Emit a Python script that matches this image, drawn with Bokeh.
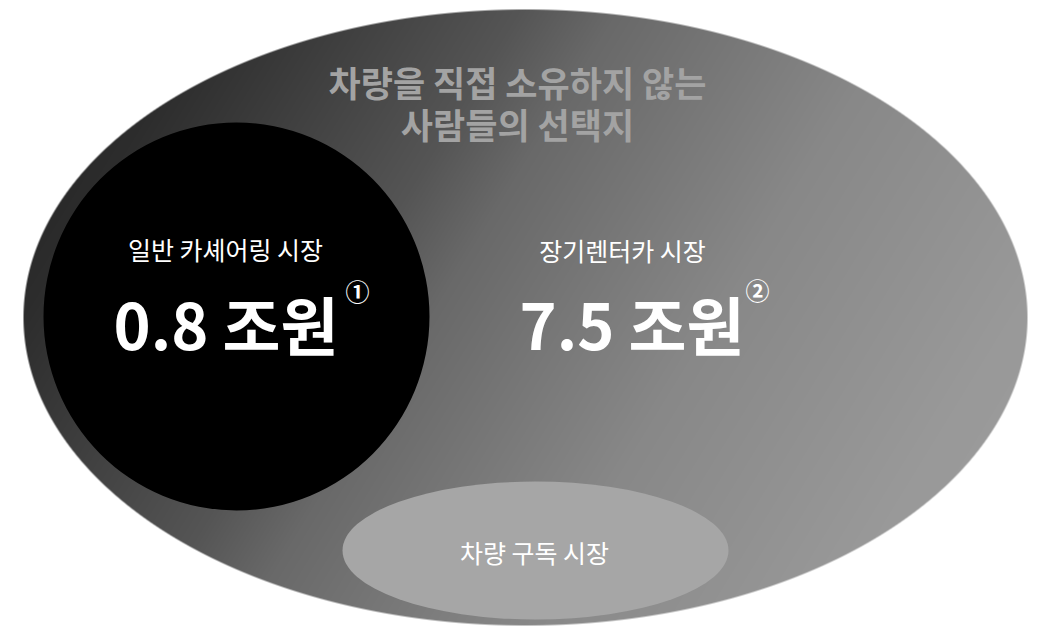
import numpy as np
from bokeh.plotting import figure
from bokeh.models import Range1d
from bokeh.core.properties import value
from bokeh.embed import file_html
from bokeh.resources import INLINE

# ---- data (texts / values) ----
title_lines = ["차량을 직접 소유하지 않는", "사람들의 선택지"]
market_names = ["일반 카셰어링 시장", "장기렌터카 시장", "차량 구독 시장"]
market_values = ["0.8 조원", "7.5 조원"]
market_notes = ["①", "②"]

# ---- layout (reference pixel coordinates, y downward) ----
W, H = 1040, 626
def fy(Y):
    return H - Y  # convert screen Y to data y

FONT = value("Noto Sans CJK KR")

big = dict(cx=525, cy=317, rx=502, ry=308)
black = dict(cx=236, cy=316, rx=193, ry=194)
sub = dict(cx=535, cy=550, rx=193, ry=69)

p = figure(width=W, height=H, x_range=Range1d(0, W), y_range=Range1d(0, H),
           output_backend="svg", toolbar_location=None, min_border=0,
           x_axis_type=None, y_axis_type=None)
p.grid.visible = False
p.outline_line_color = None
p.background_fill_color = "white"
p.border_fill_color = "white"

# ---- gradient ellipse as an RGBA image ----
j = np.arange(W)
i = np.arange(H)
XX = j[None, :] + 0.5
YY = H - (i[:, None] + 0.5)
dx = XX - big["cx"]
dy = YY - big["cy"]
f = (dx / big["rx"]) ** 2 + (dy / big["ry"]) ** 2 - 1.0
g = 2 * np.sqrt((dx / big["rx"] ** 2) ** 2 + (dy / big["ry"] ** 2) ** 2) + 1e-9
dist = f / g
alpha = np.clip(0.5 - dist, 0, 1)

x0, y0 = big["cx"] - big["rx"], big["cy"] - big["ry"]
ddx, ddy = 2 * big["rx"], 2 * big["ry"]
t = ((XX - x0) * ddx + (YY - y0) * ddy) / (ddx ** 2 + ddy ** 2)
stops_t = [0.0, 0.137, 0.36, 0.43, 0.637, 0.85, 1.0]
stops_v = [30, 45, 85, 105, 136, 153, 158]
gray = np.interp(t, stops_t, stops_v)

rgba = np.zeros((H, W, 4), dtype=np.uint8)
rgba[..., 0] = gray.astype(np.uint8)
rgba[..., 1] = gray.astype(np.uint8)
rgba[..., 2] = gray.astype(np.uint8)
rgba[..., 3] = (alpha * 255).astype(np.uint8)
img = rgba.view(dtype=np.uint32).reshape(H, W)
p.image_rgba(image=[img], x=0, y=0, dw=W, dh=H)

# ---- black circle and sub ellipse ----
p.ellipse(x=[black["cx"]], y=[fy(black["cy"])], width=[2 * black["rx"]], height=[2 * black["ry"]],
          fill_color="#000000", line_color=None)
p.ellipse(x=[sub["cx"]], y=[fy(sub["cy"])], width=[2 * sub["rx"]], height=[2 * sub["ry"]],
          fill_color="#a6a6a6", line_color=None)

# ---- texts ----
p.text(x=[517, 517], y=[fy(81), fy(123)], text=title_lines, text_font=FONT,
       text_font_style="bold", text_font_size="35px", text_color="#a3a3a3",
       text_align="center", text_baseline="middle")

p.text(x=[225, 622, 534], y=[fy(248), fy(249), fy(551)], text=market_names, text_font=FONT,
       text_font_size="25px", text_color="white", text_align="center", text_baseline="middle")

p.text(x=[225.5, 631.5], y=[fy(322), fy(322)], text=market_values, text_font=FONT,
       text_font_style="bold", text_font_size="63px", text_color="white",
       text_align="center", text_baseline="middle")

p.text(x=[357, 757], y=[fy(290), fy(289)], text=market_notes, text_font=FONT,
       text_font_style="bold", text_font_size="24px", text_color="white",
       text_align="center", text_baseline="middle")

open("out.html", "w").write(file_html(p, INLINE))
